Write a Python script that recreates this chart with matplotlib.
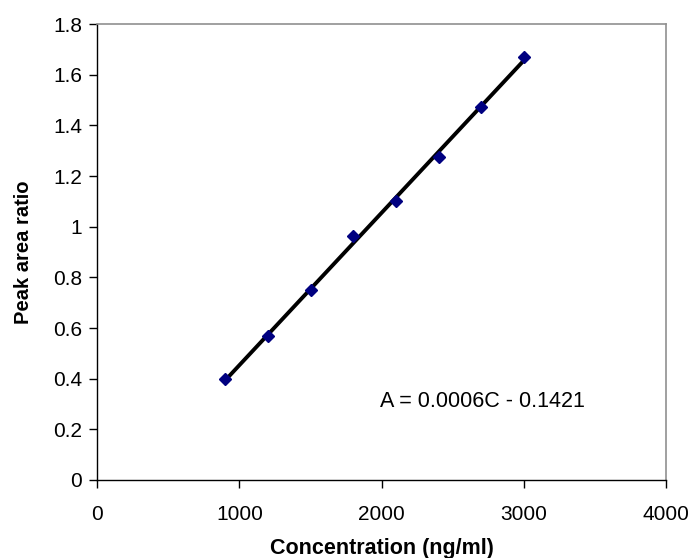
import numpy as np
import matplotlib
matplotlib.use("Agg")
import matplotlib.pyplot as plt

plt.rcParams['font.family'] = ['Liberation Sans', 'DejaVu Sans']

concentration = [900, 1200, 1500, 1800, 2100, 2400, 2700, 3000]
peak_area_ratio = [0.398, 0.567, 0.750, 0.963, 1.103, 1.276, 1.474, 1.671]
equation_text = "A = 0.0006C - 0.1421"
x_ticks = [0, 1000, 2000, 3000, 4000]
y_ticks = [0, 0.2, 0.4, 0.6, 0.8, 1.0, 1.2, 1.4, 1.6, 1.8]
y_tick_labels = ["0", "0.2", "0.4", "0.6", "0.8", "1", "1.2", "1.4", "1.6", "1.8"]

fig = plt.figure(figsize=(6.94, 5.58), dpi=100)
ax = fig.add_axes([0.140, 0.1398, 0.820, 0.817])

x = np.array(concentration)
y = np.array(peak_area_ratio)
slope, intercept = np.polyfit(x, y, 1)
xl = np.array([x.min(), x.max()])
ax.plot(xl, slope * xl + intercept, color='black', lw=2.8, zorder=2)
ax.plot(x, y, linestyle='none', marker='D', markersize=6.5, color='#000080',
        markeredgecolor='#000080', zorder=3)

ax.set_xlim(0, 4000)
ax.set_ylim(0, 1.8)
ax.set_xticks(x_ticks)
ax.set_yticks(y_ticks)
ax.set_yticklabels(y_tick_labels)
ax.tick_params(direction='out', length=6, width=1, labelsize=15, pad=5)
ax.tick_params(axis='x', pad=12)

for s in ['top', 'right']:
    ax.spines[s].set_color('#909090')
    ax.spines[s].set_linewidth(1.2)
for s in ['left', 'bottom']:
    ax.spines[s].set_color('black')
    ax.spines[s].set_linewidth(1)

ax.set_xlabel("Concentration (ng/ml)", fontsize=15.5, fontweight='bold', labelpad=10)
ax.set_ylabel("Peak area ratio", fontsize=14.5, fontweight='bold', labelpad=14)
ax.text(1990, 0.31, equation_text, fontsize=15.5, va='center', ha='left')

fig.savefig("out.png", dpi=100)
